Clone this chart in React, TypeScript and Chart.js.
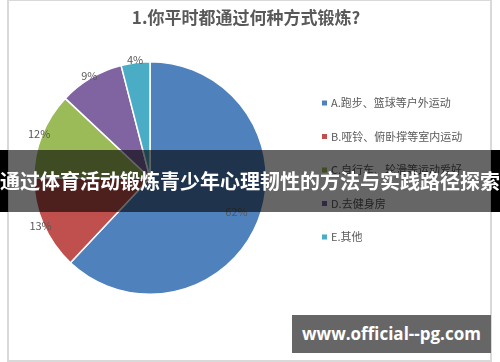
import React, { useEffect, useRef } from "react";
import { Chart, registerables } from "chart.js";

Chart.register(...registerables);

const titleText = "1.你平时都通过何种方式锻炼?";
const categories = [
  "A.跑步、篮球等户外运动",
  "B.哑铃、俯卧撑等室内运动",
  "C.自行车、轮滑等运动爱好",
  "D.去健身房",
  "E.其他",
];
const values = [62, 13, 12, 9, 4];
const colors = ["#4F81BD", "#C0504D", "#9BBB59", "#8064A2", "#4BACC6"];
const bannerText = "通过体育活动锻炼青少年心理韧性的方法与实践路径探索";
const watermarkText = "www.official--pg.com";

const FONT = "'Noto Sans CJK SC', 'Noto Sans', sans-serif";

const decorPlugin = {
  id: "decor",
  afterDraw(chart: any) {
    const ctx = chart.ctx;
    ctx.save();
    // title
    ctx.fillStyle = "#595959";
    ctx.font = `bold 17px ${FONT}`;
    ctx.textAlign = "center";
    ctx.textBaseline = "middle";
    ctx.fillText(titleText, 246, 18);

    // data labels
    const meta = chart.getDatasetMeta(0);
    const total = values.reduce((a, b) => a + b, 0);
    ctx.font = `11px ${FONT}`;
    ctx.fillStyle = "#595959";
    meta.data.forEach((arc: any, i: number) => {
      const p = arc.getProps(["x", "y", "startAngle", "endAngle", "outerRadius"], true);
      const mid = (p.startAngle + p.endAngle) / 2;
      const share = values[i] / total;
      const r = share > 0.5 ? p.outerRadius * 0.8 : p.outerRadius + 3;
      const lx = p.x + Math.cos(mid) * r;
      const ly = p.y + Math.sin(mid) * r;
      ctx.fillText(Math.round(share * 100) + "%", lx, ly);
    });

    // legend
    const legendX = 322;
    const legendTop = 103;
    const gap = 33.5;
    ctx.textAlign = "left";
    ctx.font = `11px ${FONT}`;
    categories.forEach((c, i) => {
      const y = legendTop + i * gap;
      ctx.fillStyle = colors[i];
      ctx.fillRect(legendX, y - 2.5, 5, 5);
      ctx.fillStyle = "#595959";
      ctx.fillText(c, legendX + 9, y);
    });
    ctx.restore();
  },
};

export default function App() {
  const ref = useRef<HTMLCanvasElement>(null);
  useEffect(() => {
    if (!ref.current) return;
    const chart = new Chart(ref.current, {
      type: "pie",
      data: {
        labels: categories,
        datasets: [
          {
            data: values,
            backgroundColor: colors,
            borderColor: "#ffffff",
            borderWidth: 1.5,
          },
        ],
      },
      options: {
        animation: false,
        responsive: false,
        events: [],
        layout: { padding: { left: 33, right: 233, top: 61, bottom: 67 } },
        plugins: {
          legend: { display: false },
          title: { display: false },
          tooltip: { enabled: false },
        },
      },
      plugins: [decorPlugin],
    });
    return () => chart.destroy();
  }, []);

  return (
    <div
      style={{
        position: "absolute",
        left: 0,
        top: 0,
        width: 500,
        height: 362,
        background: "#fff",
        overflow: "hidden",
      }}
    >
      <div
        style={{
          position: "absolute",
          left: 7,
          top: -1,
          width: 485,
          height: 363,
          border: "2px solid #d9d9d9",
          boxSizing: "border-box",
        }}
      />
      <canvas
        ref={ref}
        width={500}
        height={362}
        style={{ position: "absolute", left: 0, top: 0, width: 500, height: 362 }}
      />
      <div style={{ position: "absolute", left: 0, top: 150, width: 8, height: 62, background: "#000" }} />
      <div style={{ position: "absolute", left: 491, top: 150, width: 9, height: 62, background: "#000" }} />
      <div
        style={{
          position: "absolute",
          left: 8,
          top: 150,
          width: 483,
          height: 62,
          background: "rgba(0,0,0,0.6)",
        }}
      />
      <div
        style={{
          position: "absolute",
          left: -10,
          top: 150,
          width: 520,
          height: 62,
          lineHeight: "62px",
          textAlign: "center",
          color: "#fff",
          fontWeight: "bold",
          fontSize: 20,
          fontFamily: FONT,
          whiteSpace: "nowrap",
        }}
      >
        {bannerText}
      </div>
      <div
        style={{
          position: "absolute",
          left: 292,
          top: 315,
          width: 199,
          height: 38,
          lineHeight: "38px",
          background: "#666",
          color: "#fff",
          fontWeight: "bold",
          fontSize: 17,
          textAlign: "center",
          fontFamily: "'Open Sans', sans-serif",
          whiteSpace: "nowrap",
        }}
      >
        {watermarkText}
      </div>
    </div>
  );
}
